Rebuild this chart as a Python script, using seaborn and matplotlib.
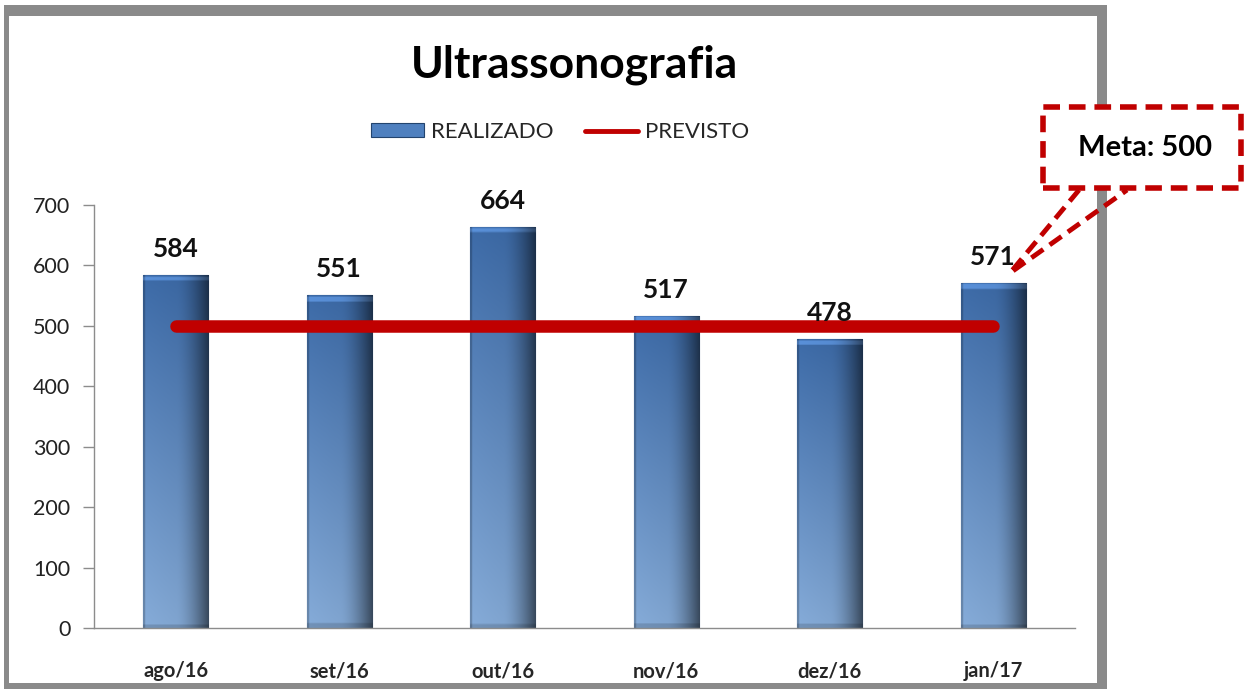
import numpy as np
import pandas as pd
import seaborn as sns
import matplotlib.pyplot as plt
from matplotlib.patches import Rectangle, Polygon, Patch
from matplotlib.lines import Line2D
from matplotlib.colors import to_rgb

sns.set_style("white")
plt.rcParams['font.family'] = ['Lato', 'DejaVu Sans']

# dados
meses = ["ago/16", "set/16", "out/16", "nov/16", "dez/16", "jan/17"]
realizado = [584, 551, 664, 517, 478, 571]
previsto = [500, 500, 500, 500, 500, 500]
meta = 500

df = pd.DataFrame({"mes": meses, "realizado": realizado, "previsto": previsto})

W, H = 1255, 689
fig = plt.figure(figsize=(W / 100, H / 100), dpi=100)
ax = fig.add_axes([94 / W, 1 - 628 / H, (1075 - 94) / W, (628 - 205) / H])

sns.barplot(data=df, x="mes", y="realizado", color="#4a78b5", width=0.4,
            edgecolor="#23446e", linewidth=0.8, ax=ax, zorder=2)

# gradiente nas barras
top_c = np.array(to_rgb("#3d6ba8"))
bot_c = np.array(to_rgb("#86acd9"))
ny, nx = 200, 60
v = np.linspace(0, 1, ny)[:, None, None]          # 0 = topo
base = top_c * (1 - v) + bot_c * v
hx = np.linspace(0, 1, nx)
shade = np.where(hx < 0.5, 1.0 - 0.08 * hx, 0.96 - 1.6 * (hx - 0.5) ** 1.6)
shade[:2] *= 0.8
grad = np.clip(base * shade[None, :, None], 0, 1)
for p in ax.patches:
    x0, y0 = p.get_x(), p.get_y()
    w, h = p.get_width(), p.get_height()
    g = grad.copy()
    px_h = h * 423 / 700
    n_hl = max(2, int(ny * 7 / px_h))
    g[1:n_hl] = np.clip(g[1:n_hl] * 1.2 + 0.06, 0, 1)
    n_bt = max(2, int(ny * 5 / px_h))
    g[-n_bt:] = g[-n_bt:] * 0.85
    im = ax.imshow(g, extent=[x0, x0 + w, y0, y0 + h], aspect="auto",
                   origin="upper", zorder=2.5, interpolation="bilinear")
    im.set_clip_path(p)

# linha prevista
sns.lineplot(x=np.arange(len(meses)), y=df["previsto"], color="#c00000",
             linewidth=9, solid_capstyle="round", ax=ax, zorder=4)

# rótulos de dados
for i, val in enumerate(realizado):
    ax.annotate(str(val), (i, val), xytext=(0, 10), textcoords="offset points",
                ha="center", va="bottom", fontsize=19, fontweight="bold",
                color="#111111", zorder=5)

ax.set_xlim(-0.5, len(meses) - 0.5)
ax.set_ylim(0, 700)
ax.set_yticks(range(0, 701, 100))
ax.set_xlabel("")
ax.set_ylabel("")
sns.despine(ax=ax, top=True, right=True)
for s in ["left", "bottom"]:
    ax.spines[s].set_color("#8c8c8c")
    ax.spines[s].set_linewidth(1)
ax.tick_params(axis="y", length=8, width=1, color="#8c8c8c", labelsize=15.5,
               labelcolor="#222222", pad=9, left=True)
ax.tick_params(axis="x", length=0, labelsize=14.5, pad=24)
for t in ax.get_xticklabels():
    t.set_fontweight("bold")

# título
fig.text(575 / W, 1 - 65 / H, "Ultrassonografia", ha="center", va="center",
         fontsize=32, fontweight="bold", color="black")

# legenda
handles = [Patch(facecolor="#4f80bf", edgecolor="#23446e", linewidth=0.8),
           Line2D([0], [0], color="#c00000", lw=3.5)]
fig.legend(handles, ["REALIZADO", "PREVISTO"], loc="center", ncol=2,
           bbox_to_anchor=(560 / W, 1 - 132 / H), frameon=False, fontsize=16,
           handlelength=2.4, handleheight=0.6, columnspacing=1.4, handletextpad=0.3)

# moldura
gray = "#8a8a8a"
to_fig = lambda x0, y0, x1, y1: (x0 / W, 1 - y1 / H, (x1 - x0) / W, (y1 - y0) / H)
for box in [(4, 5, 1107, 16), (4, 5, 9, 689), (1097, 5, 1107, 689), (4, 683, 1107, 689)]:
    fig.patches.append(Rectangle(to_fig(*box)[:2], *to_fig(*box)[2:],
                                 transform=fig.transFigure, facecolor=gray,
                                 edgecolor="none", zorder=0))

# balão da meta
px = lambda x, y: (x / W, 1 - y / H)
fig.patches.append(Rectangle(px(1043, 188), (1241 - 1043) / W, (188 - 107) / H,
                             transform=fig.transFigure, facecolor="white",
                             edgecolor="#c00000", linewidth=4, linestyle=(0, (3, 1.6)),
                             zorder=5))
fig.patches.append(Polygon([px(1079, 190), px(1010, 273), px(1127, 190)], closed=False,
                           transform=fig.transFigure, facecolor="none",
                           edgecolor="#c00000", linewidth=3.5, linestyle=(0, (3, 1.6)),
                           zorder=5))
fig.text(1145 / W, 1 - 148 / H, f"Meta: {meta}", ha="center", va="center",
         fontsize=21, fontweight="bold", color="black", zorder=6)

fig.savefig("out.png", dpi=100)
